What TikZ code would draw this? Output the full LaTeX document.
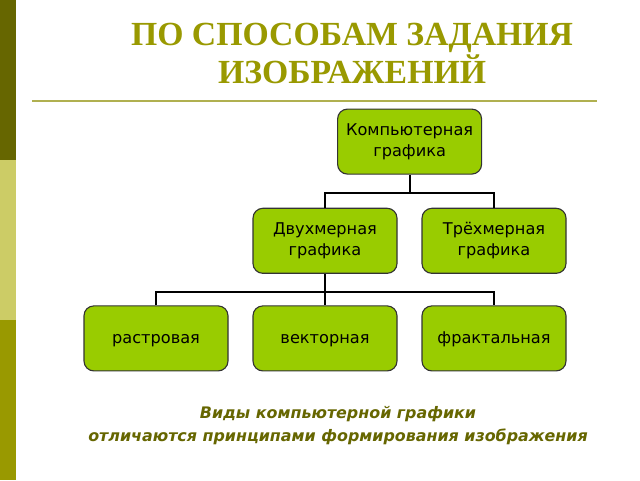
\documentclass[tikz,border=0pt]{standalone}
\usepackage{fontspec}
\setmainfont{DejaVu Sans}
\newfontfamily\titlefont{Liberation Serif}
\usetikzlibrary{positioning}
\definecolor{darkolive}{RGB}{102, 102, 0}
\definecolor{paleolive}{RGB}{204, 204, 102}
\definecolor{olive}{RGB}{153, 153, 0}
\definecolor{ruleolive}{RGB}{176, 176, 80}
\definecolor{leafgreen}{RGB}{153, 204, 0}

\tikzset{
  kind/.style    = {draw=black!80, fill=leafgreen, rounded corners=7pt, thick,
                    minimum width=3.6cm, minimum height=1.625cm, align=center,
                    font=\fontsize{11.5}{15}\selectfont, text=black},
  oneline/.style = {text height=1.4ex, text depth=0pt},
  branch/.style  = {line width=1.5pt, black}
}

\begin{document}
\begin{tikzpicture}
            \useasboundingbox                                   (0.00, 0.00) rectangle (16.00, 12.00);
            \fill[white]                                        (0.00, 0.00) rectangle (16.00, 12.00);
            % left bar
            \fill[darkolive]                                    (0.00, 8.00) rectangle ( 0.40, 12.00);
            \fill[paleolive]                                    (0.00, 4.00) rectangle ( 0.40,  8.00);
            \fill[olive]                                        (0.00, 0.00) rectangle ( 0.40,  4.00);
            % title
            \node[font=\titlefont\bfseries\fontsize{24}{25}\selectfont, text=olive, align=center]
                 (title) at (8.80, 10.66) {ПО СПОСОБАМ ЗАДАНИЯ\\ИЗОБРАЖЕНИЙ};
            \draw[ruleolive, line width=1.2pt]                 (0.80, 9.475) -- (14.925, 9.475);
            % tree
            \node[kind]          (comp)    at (10.24, 8.46) {Компьютерная\\графика};
            \node[kind]          (twod)    at ( 8.125, 5.98) {Двухмерная\\графика};
            \node[kind]          (threed)  at (12.35, 5.98) {Трёхмерная\\графика};
            \node[kind, oneline] (raster)  at ( 3.90, 3.54) {растровая};
            \node[kind, oneline] (vector)  at ( 8.125, 3.54) {векторная};
            \node[kind, oneline] (fractal) at (12.35, 3.54) {фрактальная};
            \coordinate (fork1) at ([yshift=-0.45cm]comp.south);
            \coordinate (fork2) at ([yshift=-0.45cm]twod.south);
            \draw[branch] (comp.south) -- (fork1);
            \draw[branch] (twod.north) |- (fork1) -| (threed.north);
            \draw[branch] (twod.south) -- (vector.north);
            \draw[branch] (raster.north) |- (fork2) -| (fractal.north);
            % caption
            \node[font=\bfseries\itshape\fontsize{11.3}{16.5}\selectfont, text=darkolive, align=center]
                 (note) at (8.45, 1.37) {Виды компьютерной графики\\отличаются принципами формирования изображения};
\end{tikzpicture}
\end{document}
